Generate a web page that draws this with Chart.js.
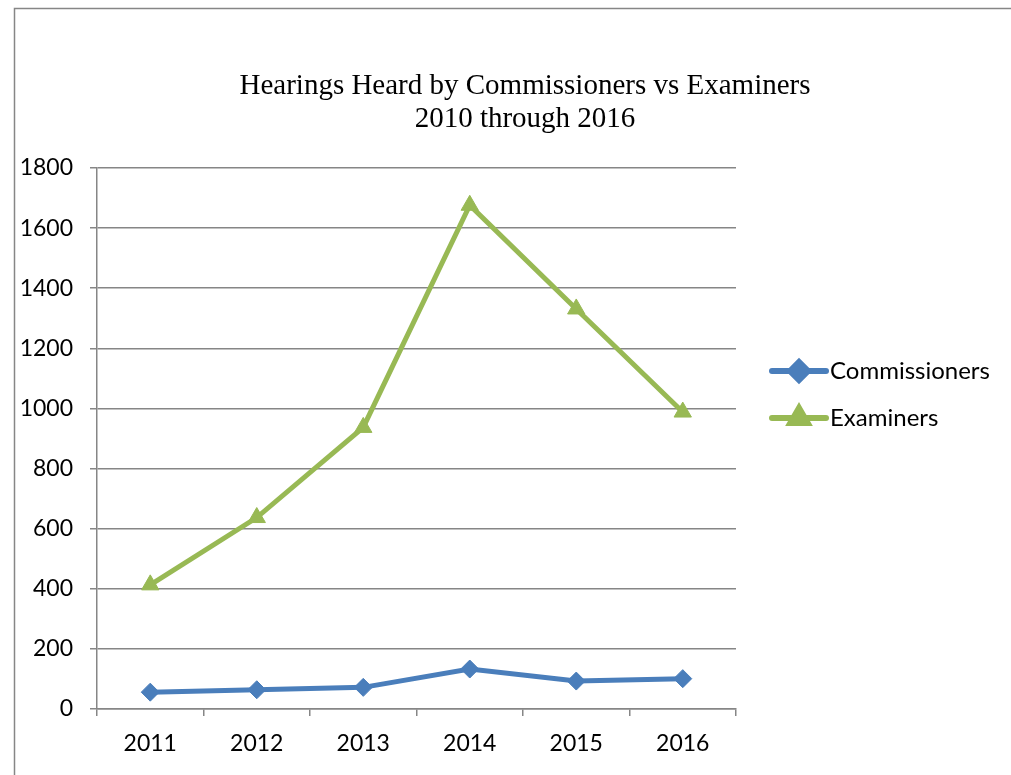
<!DOCTYPE html>
<html>
<head>
<meta charset="utf-8">
<script src="https://cdn.jsdelivr.net/npm/chart.js@4/dist/chart.umd.min.js"></script>
<style>
  html, body { margin: 0; padding: 0; background: #fff; }
  #wrap { width: 1011px; height: 775px; }
</style>
</head>
<body>
<div id="wrap"><canvas id="myChart" width="1011" height="775"></canvas></div>
<script>
let anios = ['2011', '2012', '2013', '2014', '2015', '2016'];
let comisionados = [56, 64, 72, 133, 93, 101];
let examinadores = [413, 637, 937, 1676, 1331, 988];
let titulo = ['Hearings Heard by Commissioners vs Examiners', '2010 through 2016'];
let nombresSeries = ['Commissioners', 'Examiners'];

const azul = '#4a7ebb';
const verde = '#98b954';
const gris = '#868686';
const fuente = 'Lato, "Open Sans", sans-serif';

// marco, titulo y leyenda dibujados a mano
const extras = {
  id: 'extras',
  beforeDraw(chart) {
    let ctx = chart.ctx;
    ctx.save();
    ctx.fillStyle = '#fff';
    ctx.fillRect(0, 0, chart.width, chart.height);
    ctx.strokeStyle = gris;
    ctx.lineWidth = 1.5;
    ctx.beginPath();
    ctx.moveTo(14.5, chart.height + 2);
    ctx.lineTo(14.5, 8.5);
    ctx.lineTo(chart.width + 2, 8.5);
    ctx.stroke();

    ctx.fillStyle = '#000';
    ctx.font = '29px "Liberation Serif", "Times New Roman", serif';
    ctx.textAlign = 'center';
    ctx.textBaseline = 'middle';
    ctx.fillText(titulo[0], 525, 86);
    ctx.fillText(titulo[1], 525, 119);
    ctx.restore();
  },
  afterDraw(chart) {
    let ctx = chart.ctx;
    ctx.save();
    chart.data.datasets.forEach(function (ds, i) {
      let y = 371 + i * 47;
      ctx.strokeStyle = ds.borderColor;
      ctx.lineWidth = 6;
      ctx.lineCap = 'round';
      ctx.beginPath();
      ctx.moveTo(772, y);
      ctx.lineTo(826, y);
      ctx.stroke();
      Chart.helpers.drawPoint(ctx, {
        pointStyle: ds.pointStyle,
        radius: ds.pointRadius,
        rotation: 0,
        borderWidth: 1
      }, 799, y);
      ctx.fillStyle = ds.borderColor;
      ctx.fill();
      ctx.fillStyle = '#000';
      ctx.font = '24px ' + fuente;
      ctx.textAlign = 'left';
      ctx.textBaseline = 'middle';
      ctx.fillText(ds.label, 830, y);
    });
    ctx.restore();
  }
};

let ctx = document.getElementById('myChart').getContext('2d');
let chart = new Chart(ctx, {
  type: 'line',
  data: {
    labels: anios,
    datasets: [{
      label: nombresSeries[0],
      data: comisionados,
      borderColor: azul,
      backgroundColor: azul,
      borderWidth: 5,
      pointStyle: 'rectRot',
      pointRadius: 9,
      pointBorderWidth: 1,
      tension: 0
    }, {
      label: nombresSeries[1],
      data: examinadores,
      borderColor: verde,
      backgroundColor: verde,
      borderWidth: 5,
      pointStyle: 'triangle',
      pointRadius: 10,
      pointBorderWidth: 1,
      tension: 0
    }]
  },
  options: {
    responsive: false,
    animation: false,
    layout: {
      padding: { left: 0, right: 275, top: 168, bottom: 0 }
    },
    plugins: {
      legend: { display: false },
      title: { display: false },
      tooltip: { enabled: false }
    },
    scales: {
      x: {
        offset: true,
        grid: {
          offset: true,
          drawOnChartArea: false,
          drawTicks: true,
          tickLength: 7,
          color: gris,
          lineWidth: 1.5
        },
        border: { color: gris, width: 1.5 },
        ticks: {
          color: '#000',
          font: { family: fuente, size: 23 },
          padding: 14,
          maxRotation: 0
        },
        afterFit(scale) { scale.height = 66; }
      },
      y: {
        min: 0,
        max: 1800,
        grid: {
          color: gris,
          lineWidth: 1.5,
          tickLength: 7
        },
        border: { color: gris, width: 1.5 },
        ticks: {
          stepSize: 200,
          color: '#000',
          font: { family: fuente, size: 23 },
          padding: 17,
          callback: function (v) { return String(v); }
        },
        afterFit(scale) { scale.width = 97; }
      }
    }
  },
  plugins: [extras]
});
</script>
</body>
</html>
